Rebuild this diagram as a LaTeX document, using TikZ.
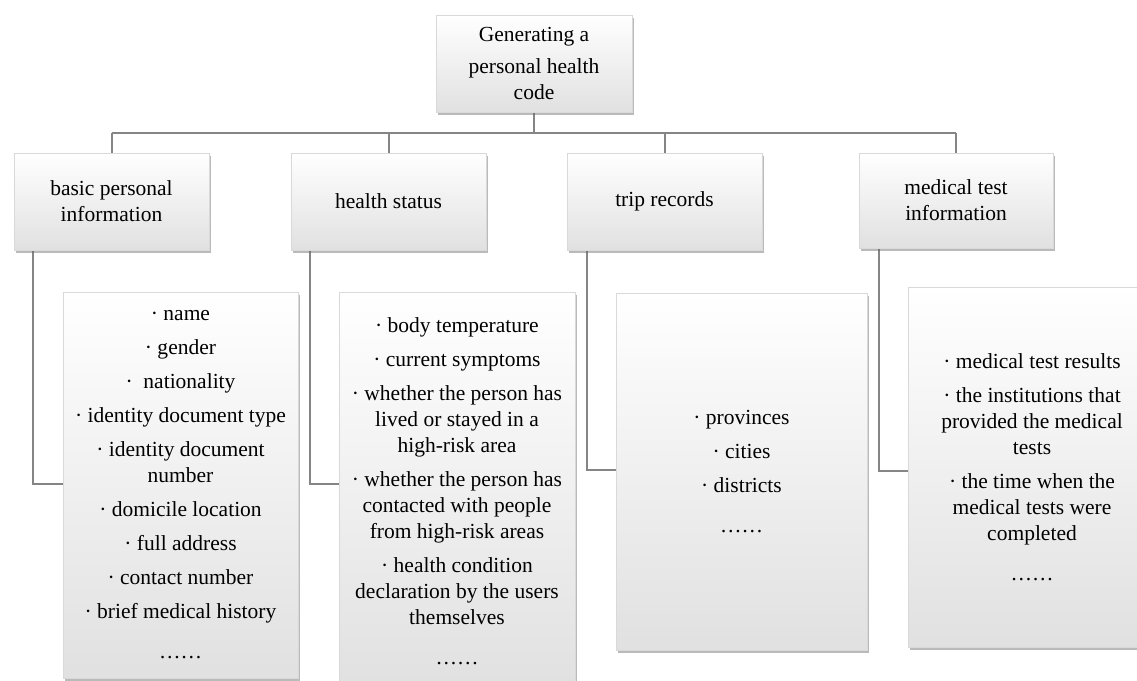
\documentclass[tikz,border=0pt]{standalone}
\usepackage{fontspec}
\setmainfont{Liberation Serif}
\usetikzlibrary{shadows,backgrounds}
\definecolor{linegray}{HTML}{858585}
\tikzset{
  box/.style={draw=black!15, line width=0.6pt, top color=white, middle color=white, bottom color=black!12,
    drop shadow={shadow xshift=1.5pt, shadow yshift=-3pt, fill=black!60, opacity=0.45},
    align=center, inner sep=0pt, font=\fontsize{21.5}{26}\selectfont},
  conn/.style={draw=linegray, line width=2pt}
}
\newcommand{\bul}{·\ }
\newcommand{\sixdots}{……}
\begin{document}
\begin{tikzpicture}[x=1pt,y=-1pt]
\useasboundingbox (0,0) rectangle (1137,680);
\clip (0,0) rectangle (1137,680);

\node[box, minimum width=196pt, minimum height=97pt] (top) at (534,63.5)
  {Generating a\\[6pt] personal health\\ code};

\node[box, minimum width=195pt, minimum height=97pt] (h1) at (111.5,201.5) {basic personal\\ information};
\node[box, minimum width=195pt, minimum height=97pt] (h2) at (388.5,201.5) {health status};
\node[box, minimum width=195pt, minimum height=97pt] (h3) at (664.5,201.5) {trip records};
\node[box, minimum width=194pt, minimum height=95pt] (h4) at (956,200.5) {medical test\\ information};

\node[box, minimum width=235pt, minimum height=386pt] (L1) at (180.5,485)
  {\bul name\\[8pt]
   \bul gender\\[8pt]
   \bul\ nationality\\[8pt]
   \bul identity document type\\[8pt]
   \bul identity document\\ number\\[8pt]
   \bul domicile location\\[8pt]
   \bul full address\\[8pt]
   \bul contact number\\[8pt]
   \bul brief medical history\\[14pt]
   \sixdots};

\node[box, minimum width=236pt, minimum height=398pt] (L2) at (457,491)
  {\bul body temperature\\[8pt]
   \bul current symptoms\\[8pt]
   \bul whether the person has\\ lived or stayed in a\\ high-risk area\\[8pt]
   \bul whether the person has\\ contacted with people\\ from high-risk areas\\[8pt]
   \bul health condition\\ declaration by the users\\ themselves\\[14pt]
   \sixdots};

\node[box, minimum width=251pt, minimum height=357pt] (L3) at (741.5,471.5)
  {\bul provinces\\[8pt]
   \bul cities\\[8pt]
   \bul districts\\[14pt]
   \sixdots};

\node[box, minimum width=248pt, minimum height=360pt] (L4) at (1032,467)
  {\bul medical test results\\[8pt]
   \bul the institutions that\\ provided the medical\\ tests\\[8pt]
   \bul the time when the\\ medical tests were\\ completed\\[14pt]
   \sixdots};

\begin{scope}[on background layer]
  \draw[conn] (top.south) -- (top.south |- 0,133);
  \draw[conn] (h1.north |- 0,133) -- (h4.north |- 0,133);
  \foreach \n in {h1,h2,h3,h4} \draw[conn] (\n.north |- 0,133) -- (\n.north);
  \draw[conn] ([xshift=19pt]h1.south west) |- (L1.west |- 0,484);
  \draw[conn] ([xshift=19pt]h2.south west) |- (L2.west |- 0,484);
  \draw[conn] ([xshift=20pt]h3.south west) |- (L3.west |- 0,470);
  \draw[conn] ([xshift=20pt]h4.south west) |- (L4.west |- 0,471);
\end{scope}
\end{tikzpicture}
\end{document}
